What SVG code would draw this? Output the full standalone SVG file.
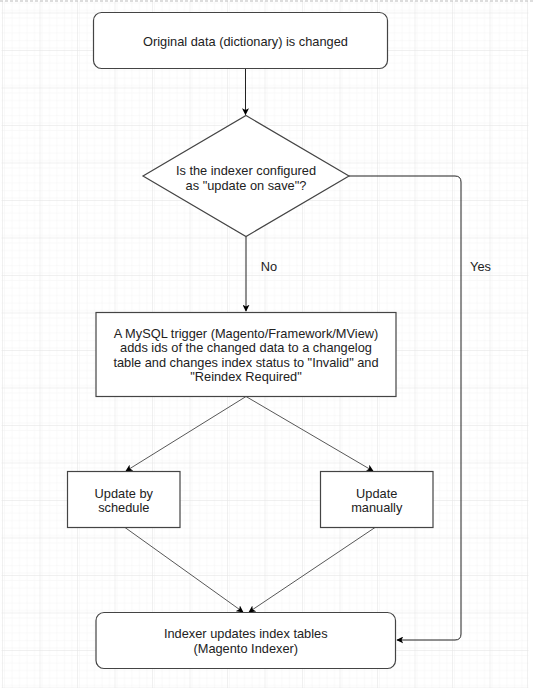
<svg xmlns="http://www.w3.org/2000/svg" width="534" height="688" viewBox="0 0 534 688">
<defs>
<pattern id="minor" patternUnits="userSpaceOnUse" x="2" y="12.5" width="7.5" height="7.5">
<path d="M0 0.25H7.5M0.25 0V7.5" stroke="#f4f4f4" stroke-width="0.6" fill="none"/>
</pattern>
<pattern id="major" patternUnits="userSpaceOnUse" x="2" y="12.5" width="37.5" height="37.5">
<rect width="37.5" height="37.5" fill="url(#minor)"/>
<path d="M0 0.25H37.5M0.25 0V37.5" stroke="#e6e6e6" stroke-width="0.8" fill="none"/>
</pattern>
<marker id="arr" viewBox="0 0 10 10" refX="9" refY="5" markerWidth="7" markerHeight="7" markerUnits="userSpaceOnUse" orient="auto">
<path d="M0 0L10 5L0 10L2.5 5Z" fill="#000"/>
</marker>
</defs>
<style>
.node{fill:#fff;stroke:#444;stroke-width:1.2}
.t{font-family:"Liberation Sans",Arial,sans-serif;font-size:12.8px;fill:#222;text-anchor:middle}
.e{fill:none;stroke:#222;stroke-width:1}
.d{fill:none;stroke:#444;stroke-width:0.9}
</style>
<rect x="0" y="0" width="534" height="688" fill="#fff"/>
<rect x="1.5" y="1" width="527" height="687" fill="url(#major)"/>
<line x1="0" y1="1" x2="534" y2="1" stroke="#bbb" stroke-width="1" stroke-dasharray="3,2"/>
<g id="connectors">
<path class="e" d="M245.5 68.5V114.5" marker-end="url(#arr)"/>
<path class="e" d="M246 236.5V311" marker-end="url(#arr)"/>
<path class="e" d="M349 176H455Q461 176 461 182V634Q461 640 455 640H397" marker-end="url(#arr)"/>
<path class="d" d="M246 396.5L126 471" marker-end="url(#arr)"/>
<path class="d" d="M246 396.5L373 471" marker-end="url(#arr)"/>
<path class="d" d="M125 527.5L243 612" marker-end="url(#arr)"/>
<path class="d" d="M375 527.5L249 612" marker-end="url(#arr)"/>
<text class="t" x="269" y="270.5">No</text>
<text class="t" x="480.5" y="270.5">Yes</text>
</g>
<g id="start">
<rect class="node" x="93.5" y="12.5" width="294" height="56" rx="8"/>
<text class="t" x="245.5" y="45.5">Original data (dictionary) is changed</text>
</g>
<g id="decision">
<path class="node" d="M246 115.5L349 176L246 236.5L143 176Z"/>
<text class="t" x="246" y="174.5">Is the indexer configured</text>
<text class="t" x="246" y="189.5">as "update on save"?</text>
</g>
<g id="trigger">
<rect class="node" x="96" y="312.5" width="300" height="84"/>
<text class="t" x="246" y="337.5">A MySQL trigger (Magento/Framework/MView)</text>
<text class="t" x="246" y="352">adds ids of the changed data to a changelog</text>
<text class="t" x="246" y="366.5">table and changes index status to "Invalid" and</text>
<text class="t" x="246" y="381">"Reindex Required"</text>
</g>
<g id="schedule">
<rect class="node" x="67.5" y="471.5" width="112.5" height="56"/>
<text class="t" x="123.75" y="497.5">Update by</text>
<text class="t" x="123.75" y="512">schedule</text>
</g>
<g id="manual">
<rect class="node" x="320.5" y="471.5" width="112.5" height="56"/>
<text class="t" x="376.75" y="497.5">Update</text>
<text class="t" x="376.75" y="512">manually</text>
</g>
<g id="indexer">
<rect class="node" x="96" y="612.5" width="299.5" height="56" rx="8"/>
<text class="t" x="245.75" y="637.5">Indexer updates index tables</text>
<text class="t" x="245.75" y="652.5">(Magento Indexer)</text>
</g>
</svg>
